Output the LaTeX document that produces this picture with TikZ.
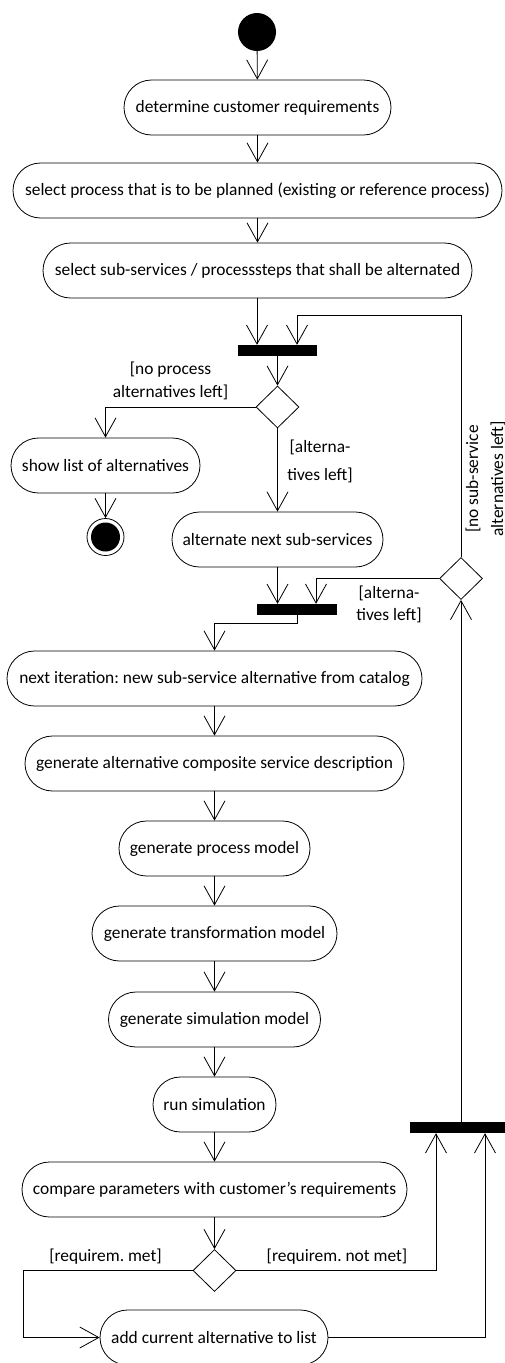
\documentclass[tikz,border=0pt]{standalone}
\usepackage{fontspec}
\setmainfont{Carlito}
\usetikzlibrary{arrows.meta,shapes.geometric}
\frenchspacing
\tikzset{
  act/.style={draw, line width=0.8pt, rounded corners=27.5pt, minimum height=55pt, inner sep=0pt, font=\fontsize{17.4}{21}\selectfont},
  bar/.style={fill=black, minimum height=11pt, inner sep=0pt},
  dec/.style={draw, line width=0.8pt, diamond, minimum width=43pt, minimum height=42pt, inner sep=0pt},
  lbl/.style={align=center, inner sep=0pt, font=\fontsize{17.4}{#1}\selectfont},
  lbl/.default=23,
  flow/.style={line width=0.8pt, -{Straight Barb[length=19pt,width=21pt,line width=0.8pt]}},
  ln/.style={line width=0.8pt}
}
\begin{document}
\begin{tikzpicture}[x=1pt,y=-1pt]
\useasboundingbox (0,0) rectangle (505,1363);
% nodes
\node[circle, fill=black, minimum size=38pt, inner sep=0pt] (start) at (257,32) {};
\node[act, minimum width=267pt] (b1) at (257.5,107.5) {determine customer requirements};
\node[act, minimum width=489pt] (b2) at (257.5,190.5) {select process that is to be planned (existing or reference process)};
\node[act, minimum width=429pt] (b3) at (257.5,270.5) {select sub-services / processsteps that shall be alternated};
\node[bar, minimum width=79pt] (bar1) at (277.5,350.5) {};
\node[dec] (d1) at (277.5,407) {};
\node[act, minimum width=189pt] (show) at (105.5,465.5) {show list of alternatives};
\node[circle, draw, line width=0.8pt, minimum size=37pt, inner sep=0pt] (final) at (105.5,537) {};
\node[circle, fill=black, minimum size=29pt, inner sep=0pt] at (final) {};
\node[act, minimum width=211pt] (alt) at (277.5,539.5) {alternate next sub-services};
\node[bar, minimum width=80pt] (bar2) at (297,609.5) {};
\node[dec] (d2) at (461,578.5) {};
\node[act, minimum width=415pt] (ni) at (214.5,678.5) {next iteration: new sub-service alternative from catalog};
\node[act, minimum width=379pt] (ga) at (214.5,763.5) {generate alternative composite service description};
\node[act, minimum width=191pt] (gp) at (214.5,848.5) {generate process model};
\node[act, minimum width=245pt] (gt) at (214.5,933.5) {generate transformation model};
\node[act, minimum width=212pt] (gs) at (214.5,1019.5) {generate simulation model};
\node[act, minimum width=123pt] (rs) at (214.5,1104.5) {run simulation};
\node[act, minimum width=385pt] (cp) at (214.5,1189.5) {compare parameters with customer\char39 s requirements};
\node[dec] (d3) at (214.5,1270.5) {};
\node[act, minimum width=228pt] (add) at (214,1337.5) {add current alternative to list};
\node[bar, minimum width=100pt] (bar3) at (460,1127.5) {};
% labels
\node[lbl] at (170.5,381) {[no process\\alternatives left]};
\node[lbl=28] at (320,461) {[alterna-\\tives left]};
\node[lbl=22] at (389,604) {[alterna-\\tives left]};
\node[lbl=25, rotate=90] at (485.5,479) {[no sub-service\\alternatives left]};
\node[lbl] at (105.5,1257) {[requirem. met]};
\node[lbl] at (337,1257) {[requirem. not met]};
% connectors
\draw[flow] (start) -- (b1);
\draw[flow] (b1) -- (b2);
\draw[flow] (b2) -- (b3);
\draw[flow] ([xshift=-0.5pt]b3.south) -- ([xshift=-0.5pt]b3.south |- bar1.north);
\draw[flow] (d2.north) -- (d2.north |- 0,315) -| ([xshift=19.5pt]bar1.north);
\draw[flow] (bar1.south) -- (d1.north);
\draw[flow] (d1.west) -| (show.north);
\draw[flow] (show.south) -- (final.north);
\draw[flow] (d1.south) -- (alt.north);
\draw[flow] (alt.south) -- (alt.south |- bar2.north);
\draw[flow] (d2.west) -| ([xshift=19pt]bar2.north);
\draw[flow] (bar2.south) -- ++(0,8) -| (ni.north);
\draw[flow] (ni) -- (ga);
\draw[flow] (ga) -- (gp);
\draw[flow] (gp) -- (gt);
\draw[flow] (gt) -- (gs);
\draw[flow] (gs) -- (rs);
\draw[flow] (rs) -- (cp);
\draw[flow] (cp) -- (d3);
\draw[flow] (d3.west) -- (d3.west -| 23,0) |- (add.west);
\draw[flow] (d3.east) -| ([xshift=-24pt]bar3.south);
\draw[flow] (add.east) -| ([xshift=25pt]bar3.south);
\draw[flow] (bar3.north -| d2.south) -- (d2.south);
\end{tikzpicture}
\end{document}
